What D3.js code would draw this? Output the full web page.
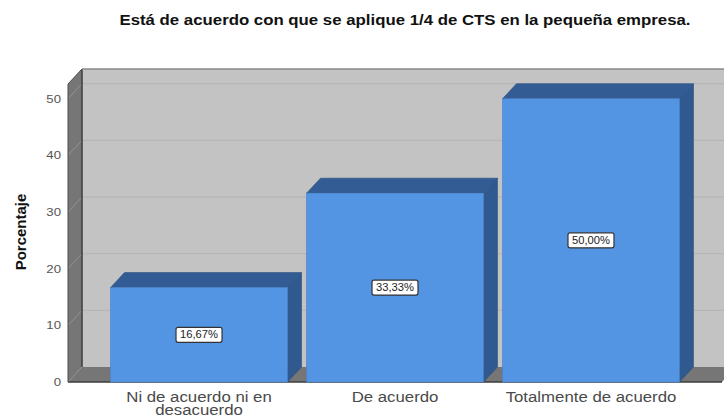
<!DOCTYPE html>
<html>
<head>
<meta charset="utf-8">
<script src="https://cdn.jsdelivr.net/npm/d3@7"></script>
<style>
  body { margin: 0; background: #fff; }
  svg { display: block; font-family: "Liberation Sans", Arial, sans-serif; }
</style>
</head>
<body>
<svg width="724" height="419"></svg>
<script>
// chart data
const categories = ['Ni de acuerdo ni en desacuerdo', 'De acuerdo', 'Totalmente de acuerdo'];
const categoryLines = [['Ni de acuerdo ni en', 'desacuerdo'], ['De acuerdo'], ['Totalmente de acuerdo']];
const percentages = [16.67, 33.33, 50.00];
const tickValues = [0, 10, 20, 30, 40, 50];
const titleText = 'Está de acuerdo con que se aplique 1/4 de CTS en la pequeña empresa.';
const yTitle = 'Porcentaje';

const svg = d3.select('svg');

// front plane + depth of the 3d box
const plotLeft = 68, plotRight = 722, plotBottom = 382, plotTop = 84;
const dx = 14, dy = -15;

const y = d3.scaleLinear().domain([0, 52.6]).range([plotBottom, plotTop]);
const x = d3.scaleBand().domain(categories).range([plotLeft, plotRight])
    .paddingInner(0.097).paddingOuter(0.217);

const pts = p => p.map(d => d.join(',')).join(' ');

// back wall
svg.append('polygon')
    .attr('points', pts([[plotLeft + dx, plotBottom + dy], [plotLeft + dx, plotTop + dy], [plotRight + dx, plotTop + dy], [plotRight + dx, plotBottom + dy]]))
    .attr('fill', '#c3c3c3');

// grid lines on the back wall
svg.append('g').selectAll('line').data(tickValues.filter(d => d > 0)).enter().append('line')
    .attr('x1', plotLeft + dx).attr('x2', plotRight + dx)
    .attr('y1', d => y(d) + dy).attr('y2', d => y(d) + dy)
    .attr('stroke', '#b3b3b3').attr('stroke-width', 1);

// left wall
svg.append('polygon')
    .attr('points', pts([[plotLeft, plotBottom], [plotLeft, plotTop], [plotLeft + dx, plotTop + dy], [plotLeft + dx, plotBottom + dy]]))
    .attr('fill', '#767676');
svg.append('g').selectAll('line').data(tickValues.filter(d => d > 0)).enter().append('line')
    .attr('x1', plotLeft).attr('x2', plotLeft + dx)
    .attr('y1', d => y(d)).attr('y2', d => y(d) + dy)
    .attr('stroke', '#9a9a9a').attr('stroke-width', 0.8);

// floor
svg.append('polygon')
    .attr('points', pts([[plotLeft, plotBottom], [plotLeft + dx, plotBottom + dy], [plotRight + dx, plotBottom + dy], [plotRight, plotBottom]]))
    .attr('fill', '#767676');

// box edges
svg.append('line').attr('x1', plotLeft + dx).attr('x2', plotLeft + dx).attr('y1', plotTop + dy).attr('y2', plotBottom + dy)
    .attr('stroke', '#3c3c3c').attr('stroke-width', 1.5);
svg.append('line').attr('x1', plotLeft + dx).attr('x2', plotRight + dx).attr('y1', plotTop + dy).attr('y2', plotTop + dy)
    .attr('stroke', '#8a8a8a').attr('stroke-width', 1.5);
svg.append('line').attr('x1', plotLeft).attr('x2', plotLeft).attr('y1', plotTop).attr('y2', plotBottom)
    .attr('stroke', '#4a4a4a').attr('stroke-width', 1);
svg.append('line').attr('x1', plotLeft).attr('x2', plotLeft + dx).attr('y1', plotTop).attr('y2', plotTop + dy)
    .attr('stroke', '#4a4a4a').attr('stroke-width', 1);
svg.append('line').attr('x1', plotLeft).attr('x2', plotRight).attr('y1', plotBottom).attr('y2', plotBottom)
    .attr('stroke', '#3c3c3c').attr('stroke-width', 1.5);

// bars
const bars = svg.append('g').selectAll('g').data(categories).enter().append('g');
const w = x.bandwidth();
bars.append('polygon')
    .attr('points', (d, i) => {
        const x0 = x(d), yv = y(percentages[i]);
        return pts([[x0 + w, yv], [x0 + w + dx, yv + dy], [x0 + w + dx, plotBottom + dy], [x0 + w, plotBottom]]);
    })
    .attr('fill', '#30598f').attr('stroke', '#2b4f80').attr('stroke-width', 0.6);
bars.append('polygon')
    .attr('points', (d, i) => {
        const x0 = x(d), yv = y(percentages[i]);
        return pts([[x0, yv], [x0 + dx, yv + dy], [x0 + w + dx, yv + dy], [x0 + w, yv]]);
    })
    .attr('fill', '#325c93').attr('stroke', '#2b4f80').attr('stroke-width', 0.6);
bars.append('rect')
    .attr('x', d => x(d))
    .attr('y', (d, i) => y(percentages[i]))
    .attr('width', w)
    .attr('height', (d, i) => plotBottom - y(percentages[i]))
    .attr('fill', '#5394e3').attr('stroke', '#4a82c8').attr('stroke-width', 0.6);

// value labels
const fmt = v => v.toFixed(2).replace('.', ',') + '%';
const labels = bars.append('g')
    .attr('transform', (d, i) => `translate(${x(d) + w / 2}, ${(y(percentages[i]) + plotBottom) / 2})`);
labels.append('rect')
    .attr('x', -23).attr('y', -7.5).attr('width', 46).attr('height', 15).attr('rx', 2)
    .attr('fill', '#fff').attr('stroke', '#333').attr('stroke-width', 1.2);
labels.append('text')
    .attr('transform', 'scale(1.12,1)')
    .attr('text-anchor', 'middle').attr('dy', '0.35em')
    .attr('font-size', 10).attr('fill', '#222')
    .text((d, i) => fmt(percentages[i]));

// y tick labels
svg.append('g').selectAll('text').data(tickValues).enter().append('text')
    .attr('transform', d => `translate(61, ${y(d)}) scale(1.2,1)`)
    .attr('text-anchor', 'end').attr('dy', '0.35em')
    .attr('font-size', 11).attr('fill', '#555')
    .text(d => d);

// y axis title
svg.append('text')
    .attr('transform', 'translate(26, 232) rotate(-90)')
    .attr('text-anchor', 'middle')
    .attr('font-size', 15).attr('font-weight', 'bold').attr('fill', '#111')
    .text(yTitle);

// category labels
const cat = svg.append('g').selectAll('g').data(categories).enter().append('g')
    .attr('transform', d => `translate(${x(d) + w / 2}, 402) scale(1.12,1)`);
cat.selectAll('text').data((d, i) => categoryLines[i]).enter().append('text')
    .attr('y', (d, i) => i * 13.5)
    .attr('text-anchor', 'middle')
    .attr('font-size', 15).attr('fill', '#4a4a4a')
    .text(d => d);

// title
svg.append('text')
    .attr('transform', 'translate(405, 25) scale(1.2,1)')
    .attr('text-anchor', 'middle')
    .attr('font-size', 14).attr('font-weight', 'bold').attr('fill', '#111')
    .text(titleText);
</script>
</body>
</html>
